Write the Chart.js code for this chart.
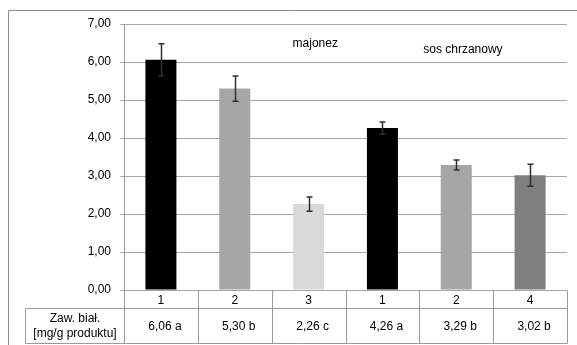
<!DOCTYPE html>
<html>
<head>
<meta charset="utf-8">
<script src="https://cdn.jsdelivr.net/npm/chart.js@4"></script>
<style>
  body { margin: 0; background: #fff; }
  canvas { display: block; }
</style>
</head>
<body>
<canvas id="chart" width="577" height="345"></canvas>
<script>
// dane z wykresu
const categories = ['1', '2', '3', '1', '2', '4'];
const values = [6.06, 5.30, 2.26, 4.26, 3.29, 3.02];
const errors = [0.42, 0.33, 0.19, 0.16, 0.13, 0.29];
const letters = ['a', 'b', 'c', 'a', 'b', 'b'];
const barColors = ['#000000', '#a6a6a6', '#d9d9d9', '#000000', '#a6a6a6', '#7f7f7f'];
const yTicks = [0, 1, 2, 3, 4, 5, 6, 7];
const rowHeader = ['Zaw. biał.', '[mg/g produktu]'];
// podpisy grup: [tekst, pozycja na osi x (indeks), pozycja na osi y]
const groupNames = [['majonez', 2.09, 6.49], ['sos chrzanowy', 4.09, 6.33]];

const FONT = '"Liberation Sans", Arial, sans-serif';
const fmt = v => v.toFixed(2).replace('.', ',');

// słupki błędów
const errorBars = {
    id: 'errorBars',
    afterDatasetsDraw(chart) {
        const ctx = chart.ctx;
        const x = chart.scales.x, y = chart.scales.y;
        ctx.save();
        ctx.strokeStyle = '#303030';
        ctx.lineWidth = 1.5;
        values.forEach((v, i) => {
            const px = Math.round(x.getPixelForValue(i)) + 0.5;
            const top = y.getPixelForValue(v + errors[i]);
            const bot = y.getPixelForValue(v - errors[i]);
            ctx.beginPath();
            ctx.moveTo(px, top); ctx.lineTo(px, bot);
            ctx.moveTo(px - 3, top); ctx.lineTo(px + 3, top);
            ctx.moveTo(px - 3, bot); ctx.lineTo(px + 3, bot);
            ctx.stroke();
        });
        ctx.restore();
    }
};

// tabela danych pod wykresem + ramka + podpisy grup
const dataTable = {
    id: 'dataTable',
    beforeDraw(chart) {
        const ctx = chart.ctx;
        ctx.save();
        ctx.strokeStyle = '#8c8c8c';
        ctx.lineWidth = 1;
        ctx.beginPath();
        ctx.moveTo(8.5, 345); ctx.lineTo(8.5, 10.5); ctx.lineTo(577, 10.5);
        ctx.stroke();
        ctx.restore();
    },
    afterDraw(chart) {
        const ctx = chart.ctx;
        const x = chart.scales.x, y = chart.scales.y;
        const area = chart.chartArea;
        const step = x.getPixelForValue(1) - x.getPixelForValue(0);
        const r0 = Math.round(area.bottom) + 0.5;
        const r1 = r0 + 18;
        const r2 = r1 + 35;
        const left = Math.round(area.left) + 0.5;
        const right = Math.round(area.right) + 0.5;
        const headLeft = 25.5;

        ctx.save();
        ctx.strokeStyle = '#9a9a9a';
        ctx.lineWidth = 1;
        ctx.beginPath();
        ctx.moveTo(left, r1); ctx.lineTo(right, r1);
        ctx.moveTo(headLeft, r1); ctx.lineTo(left, r1);
        ctx.moveTo(headLeft, r2); ctx.lineTo(right, r2);
        ctx.moveTo(headLeft, r1); ctx.lineTo(headLeft, r2);
        ctx.moveTo(left, r0); ctx.lineTo(left, r2);
        for (let i = 0; i < categories.length; i++) {
            const bx = Math.round(x.getPixelForValue(i) + step / 2) + 0.5;
            ctx.moveTo(bx, r0); ctx.lineTo(bx, r2);
        }
        ctx.stroke();

        ctx.fillStyle = '#000';
        ctx.font = '12px ' + FONT;
        ctx.textAlign = 'center';
        ctx.textBaseline = 'middle';
        categories.forEach((c, i) => {
            const cx = x.getPixelForValue(i);
            ctx.fillText(c, cx, (r0 + r1) / 2 + 1);
            ctx.fillText(fmt(values[i]) + ' ' + letters[i], cx + 4, (r1 + r2) / 2 + 1);
        });
        ctx.fillText(rowHeader[0], (headLeft + left) / 2, r1 + 10);
        ctx.fillText(rowHeader[1], (headLeft + left) / 2, r1 + 25);

        groupNames.forEach(g => {
            ctx.fillText(g[0], x.getPixelForValue(g[1]), y.getPixelForValue(g[2]));
        });
        ctx.restore();
    }
};

new Chart(document.getElementById('chart').getContext('2d'), {
    type: 'bar',
    data: {
        labels: categories,
        datasets: [{
            data: values,
            backgroundColor: barColors,
            borderWidth: 0,
            barPercentage: 0.42,
            categoryPercentage: 1
        }]
    },
    options: {
        responsive: false,
        animation: false,
        devicePixelRatio: 1,
        layout: { padding: { top: 24, right: 10, bottom: 55, left: 0 } },
        plugins: { legend: { display: false }, tooltip: { enabled: false } },
        scales: {
            x: { display: false },
            y: {
                min: 0,
                max: 7,
                afterFit(s) { s.width = 124; },
                afterBuildTicks(s) { s.ticks = yTicks.map(v => ({ value: v })); },
                border: { display: true, color: '#9a9a9a' },
                grid: { color: '#a6a6a6', tickLength: 4, drawTicks: true },
                ticks: {
                    padding: 9,
                    color: '#000',
                    font: { family: FONT, size: 12 },
                    callback: v => fmt(v)
                }
            }
        }
    },
    plugins: [errorBars, dataTable]
});
</script>
</body>
</html>
